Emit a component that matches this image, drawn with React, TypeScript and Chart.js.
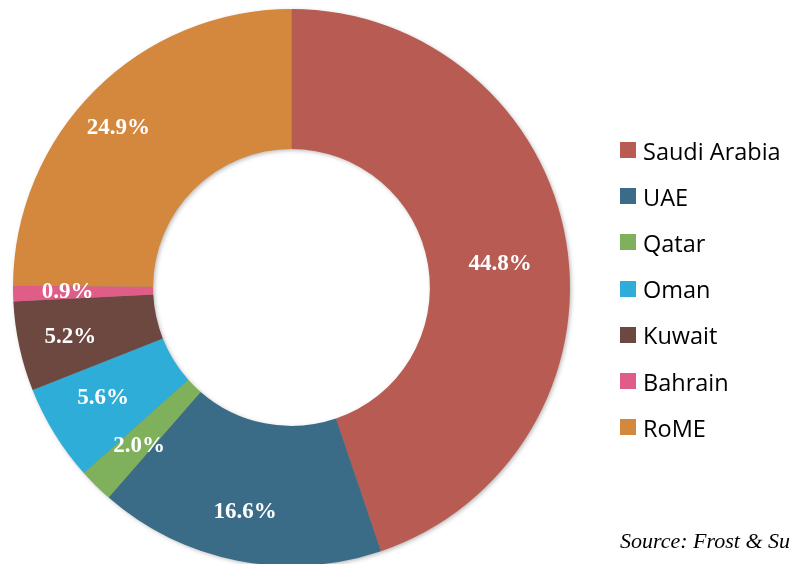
import React, { useEffect, useRef } from "react";
import { Chart, registerables } from "chart.js";

Chart.register(...registerables);

const countries = ["Saudi Arabia", "UAE", "Qatar", "Oman", "Kuwait", "Bahrain", "RoME"];
const shares = [44.8, 16.6, 2.0, 5.6, 5.2, 0.9, 24.9];
const colors = ["#B85B53", "#3B6C87", "#7FB05B", "#2EADD8", "#6D4840", "#DF5D86", "#D3883E"];
const sourceNote = "Source: Frost & Sullivan";

// label placement inside ring (fraction of ring thickness, angle nudge in degrees)
const labelRadial = [0.51, 0.65, 0.58, 0.57, 0.63, 0.61, 0.69];
const labelNudgeDeg = [3, 0.5, -0.7, 1.3, -0.4, 0.2, -2.6];

const shadowPlugin = {
  id: "ringShadow",
  beforeDatasetsDraw(chart: any) {
    const meta = chart.getDatasetMeta(0);
    const arc = meta.data[0];
    if (!arc) return;
    const { x, y, innerRadius, outerRadius } = arc.getProps(["x", "y", "innerRadius", "outerRadius"], true);
    const ctx = chart.ctx;
    ctx.save();
    ctx.shadowColor = "rgba(0,0,0,0.35)";
    ctx.shadowBlur = 5;
    ctx.shadowOffsetX = 1.5;
    ctx.shadowOffsetY = 1.5;
    ctx.fillStyle = "#888";
    ctx.beginPath();
    ctx.arc(x, y, outerRadius - 1, 0, Math.PI * 2, false);
    ctx.arc(x, y, innerRadius + 1, 0, Math.PI * 2, true);
    ctx.closePath();
    ctx.fill("evenodd");
    ctx.restore();
  },
};

const labelPlugin = {
  id: "sliceLabels",
  afterDatasetsDraw(chart: any) {
    const meta = chart.getDatasetMeta(0);
    const ctx = chart.ctx;
    ctx.save();
    ctx.fillStyle = "#ffffff";
    ctx.font = "bold 23px 'Liberation Serif', 'DejaVu Serif', serif";
    ctx.textAlign = "center";
    ctx.textBaseline = "middle";
    meta.data.forEach((el: any, i: number) => {
      const p = el.getProps(["x", "y", "startAngle", "endAngle", "innerRadius", "outerRadius"], true);
      const mid = (p.startAngle + p.endAngle) / 2 + (labelNudgeDeg[i] * Math.PI) / 180;
      const r = p.innerRadius + (p.outerRadius - p.innerRadius) * labelRadial[i];
      const lx = p.x + Math.cos(mid) * r;
      const ly = p.y + Math.sin(mid) * r;
      ctx.fillText(shares[i].toFixed(1) + "%", lx, ly);
    });
    ctx.restore();
  },
};

export default function App() {
  const canvasRef = useRef<HTMLCanvasElement | null>(null);

  useEffect(() => {
    if (!canvasRef.current) return;
    const chart = new Chart(canvasRef.current, {
      type: "doughnut",
      data: {
        labels: countries,
        datasets: [
          {
            data: shares,
            backgroundColor: colors,
            borderWidth: 0,
          },
        ],
      },
      options: {
        responsive: false,
        animation: false,
        cutout: "49.7%",
        layout: { padding: { left: 13, top: 9, right: 220, bottom: 34 } },
        plugins: {
          legend: { display: false },
          tooltip: { enabled: false },
        },
      },
      plugins: [shadowPlugin, labelPlugin],
    });
    return () => chart.destroy();
  }, []);

  return (
    <div
      style={{
        position: "fixed",
        left: 0,
        top: 0,
        width: 790,
        height: 564,
        overflow: "hidden",
        background: "#ffffff",
      }}
    >
      <canvas
        ref={canvasRef}
        width={790}
        height={600}
        style={{ position: "absolute", left: 0, top: 0, width: 790, height: 600 }}
      />
      <div style={{ position: "absolute", left: 620, top: 130, whiteSpace: "nowrap" }}>
        {countries.map((c, i) => (
          <div
            key={c}
            style={{
              display: "flex",
              alignItems: "center",
              height: 46.2,
              fontFamily: "'Open Sans', Lato, sans-serif",
              fontSize: 23.5,
              color: "#000",
            }}
          >
            <span
              style={{
                display: "inline-block",
                width: 16,
                height: 16,
                background: colors[i],
                marginRight: 7,
                marginTop: -6,
              }}
            />
            <span style={{ lineHeight: "28px", marginTop: -5 }}>{c}</span>
          </div>
        ))}
      </div>
      <div
        style={{
          position: "absolute",
          left: 620,
          top: 528,
          whiteSpace: "nowrap",
          fontFamily: "'Liberation Serif', serif",
          fontStyle: "italic",
          fontSize: 22,
          color: "#000",
        }}
      >
        {sourceNote}
      </div>
    </div>
  );
}
